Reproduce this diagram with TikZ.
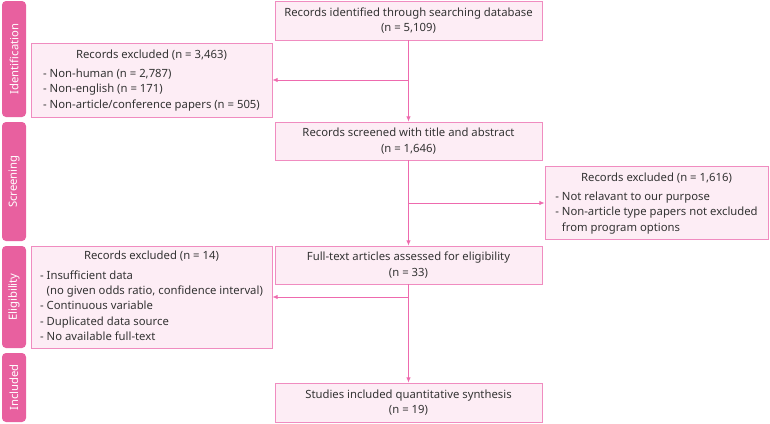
\documentclass[tikz,border=0pt]{standalone}
\usepackage{fontspec}
\setmainfont{Noto Sans}
\usetikzlibrary{arrows.meta}
\definecolor{barpink}{HTML}{E8609F}
\definecolor{boxline}{HTML}{F08CC0}
\definecolor{boxfill}{HTML}{FDEDF5}
\definecolor{flowpink}{HTML}{EE6AAE}

\begin{document}
\begin{tikzpicture}[x=1pt,y=-1pt,font=\fontsize{11.3}{15.3}\selectfont,
  >={Latex[length=1.8mm,width=1.5mm]},
  box/.style={draw=boxline,fill=boxfill,line width=0.8pt,text=black!80,
              minimum width=267pt,minimum height=38pt,align=center,inner sep=0pt},
  xbox/.style={box,minimum width=241pt},
  stage/.style={fill=barpink,rounded corners=4pt,text=white,rotate=90,
                minimum height=24pt,inner sep=0pt},
  flow/.style={draw=flowpink,line width=0.8pt,->}]
 \useasboundingbox (0,0) rectangle (770,423);
 % stages
 \node[stage,minimum width=116pt] (sid) at (14,59) {Identification};
 \node[stage,minimum width=119pt] (ssc) at (14,181.5) {Screening};
 \node[stage,minimum width=102pt] (sel) at (14,297) {Eligibility};
 \node[stage,minimum width=69pt] (sin) at (14,387.5) {Included};
 % main flow
 \node[box,minimum height=39pt] (found) at (408.5,20.5) {Records identified through searching database\\(n = 5,109)};
 \node[box] (screen) at (408.5,141) {Records screened with title and abstract\\(n = 1,646)};
 \node[box] (full) at (408.5,265) {Full-text articles assessed for eligibility\\(n = 33)};
 \node[box,minimum height=39pt] (incl) at (408.5,402.5) {Studies included quantitative synthesis\\(n = 19)};
 % excluded records
 \node[xbox,minimum height=74pt] (ex1) at (151.5,80) {\begin{tabular}{@{}l@{}}
   \multicolumn{1}{@{}c@{}}{Records excluded (n = 3,463)}\\[4pt]
   - Non-human (n = 2,787)\\
   - Non-english (n = 171)\\
   - Non-article/conference papers (n = 505)\end{tabular}};
 \node[xbox,minimum width=223pt,minimum height=73pt] (ex2) at (656.5,203) {\begin{tabular}{@{}l@{}}
   \multicolumn{1}{@{}c@{}}{Records excluded (n = 1,616)}\\[4pt]
   - Not relavant to our purpose\\
   - Non-article type papers not excluded\\
   \hphantom{- }from program options\end{tabular}};
 \node[xbox,minimum height=102pt] (ex3) at (151.5,297) {\begin{tabular}{@{}l@{}}
   \multicolumn{1}{@{}c@{}}{Records excluded (n = 14)}\\[4pt]
   - Insufficient data\\
   \hphantom{- }(no given odds ratio, confidence interval)\\
   - Continuous variable\\
   - Duplicated data source\\
   - No available full-text\end{tabular}};
 % arrows
 \draw[flow] (found) -- (screen);
 \draw[flow] (screen) -- (full);
 \draw[flow] (full) -- (incl);
 \draw[flow] (found.south |- ex1.east) -- (ex1);
 \draw[flow] (screen.south |- ex2.west) -- (ex2);
 \draw[flow] (full.south |- ex3.east) -- (ex3);
\end{tikzpicture}
\end{document}
